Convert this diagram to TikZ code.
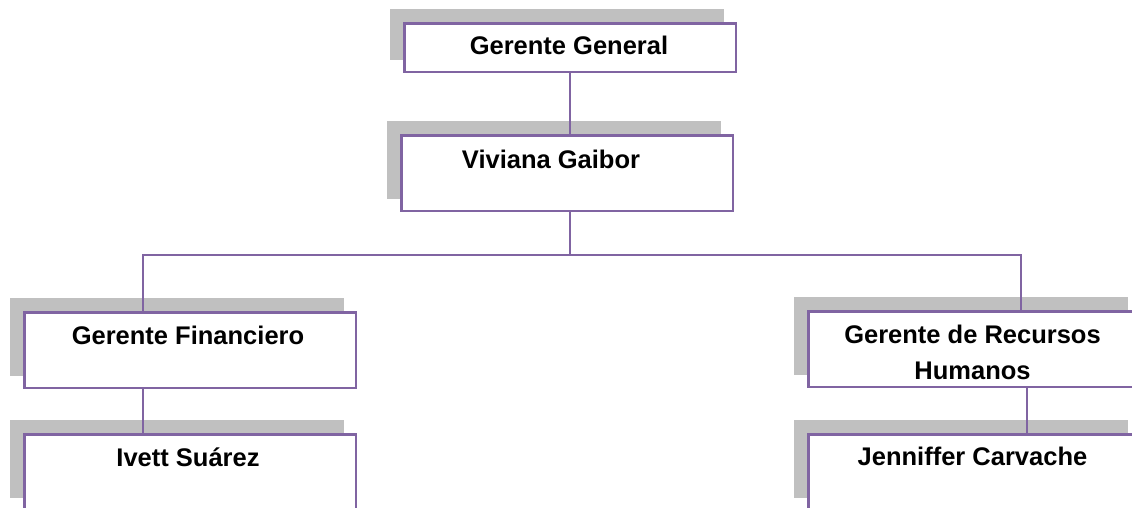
\documentclass[tikz,border=0pt]{standalone}
\usepackage{fontspec}
\setmainfont{Liberation Sans}
\usetikzlibrary{shadows}
\definecolor{boxpurple}{RGB}{128,100,162}
\definecolor{shadowgray}{RGB}{192,192,192}
\begin{document}
\begin{tikzpicture}[x=1pt,y=-1pt,
  box/.style={draw=boxpurple, fill=white, line width=2.5pt, inner sep=0pt,
    minimum width=331.5pt, minimum height=75.5pt,
    general shadow={fill=shadowgray, draw=shadowgray, line width=2.5pt, shadow xshift=-13.5pt, shadow yshift=13pt}},
  lbl/.style={anchor=base, inner sep=0pt, font=\fontsize{25.5}{36}\selectfont\bfseries, align=center},
  conn/.style={draw=boxpurple, line width=2.5pt}]
\useasboundingbox (0,0) rectangle (1132,507);
\clip (0,0) rectangle (1132,507);
\node[box, minimum height=48.5pt] (gg) at (570,47.5) {};
\node[box] (vg) at (567,173) {};
\node[box] (gf) at (190,350) {};
\node[box] (is) at (190,472) {};
\node[box] (grh) at (974,349) {};
\node[box] (jc) at (974,472) {};
\node[lbl] (tgg) at (569,54) {Gerente General};
\node[lbl] (tvg) at (551,168) {Viviana Gaibor};
\node[lbl] (tgf) at (188,344) {Gerente Financiero};
\node[lbl] (tis) at (188,466) {Ivett Suárez};
\node[lbl] (tgrh1) at (972.5,343) {Gerente de Recursos};
\node[lbl] (tgrh2) at (972.5,379) {Humanos};
\node[lbl] (tjc) at (972.5,465) {Jenniffer Carvache};
\coordinate (busM) at (570,255);
\coordinate (busL) at (143,255);
\coordinate (busR) at (1021,255);
\coordinate (rx) at (1027,0);
\draw[conn] (busM |- gg.south) -- (busM |- vg.north);
\draw[conn] (busM |- vg.south) -- (busM);
\draw[conn] (busL |- gf.north) -- (busL) -- (busR) -- (busR |- grh.north);
\draw[conn] (busL |- gf.south) -- (busL |- is.north);
\draw[conn] (rx |- grh.south) -- (rx |- jc.north);
\end{tikzpicture}
\end{document}
